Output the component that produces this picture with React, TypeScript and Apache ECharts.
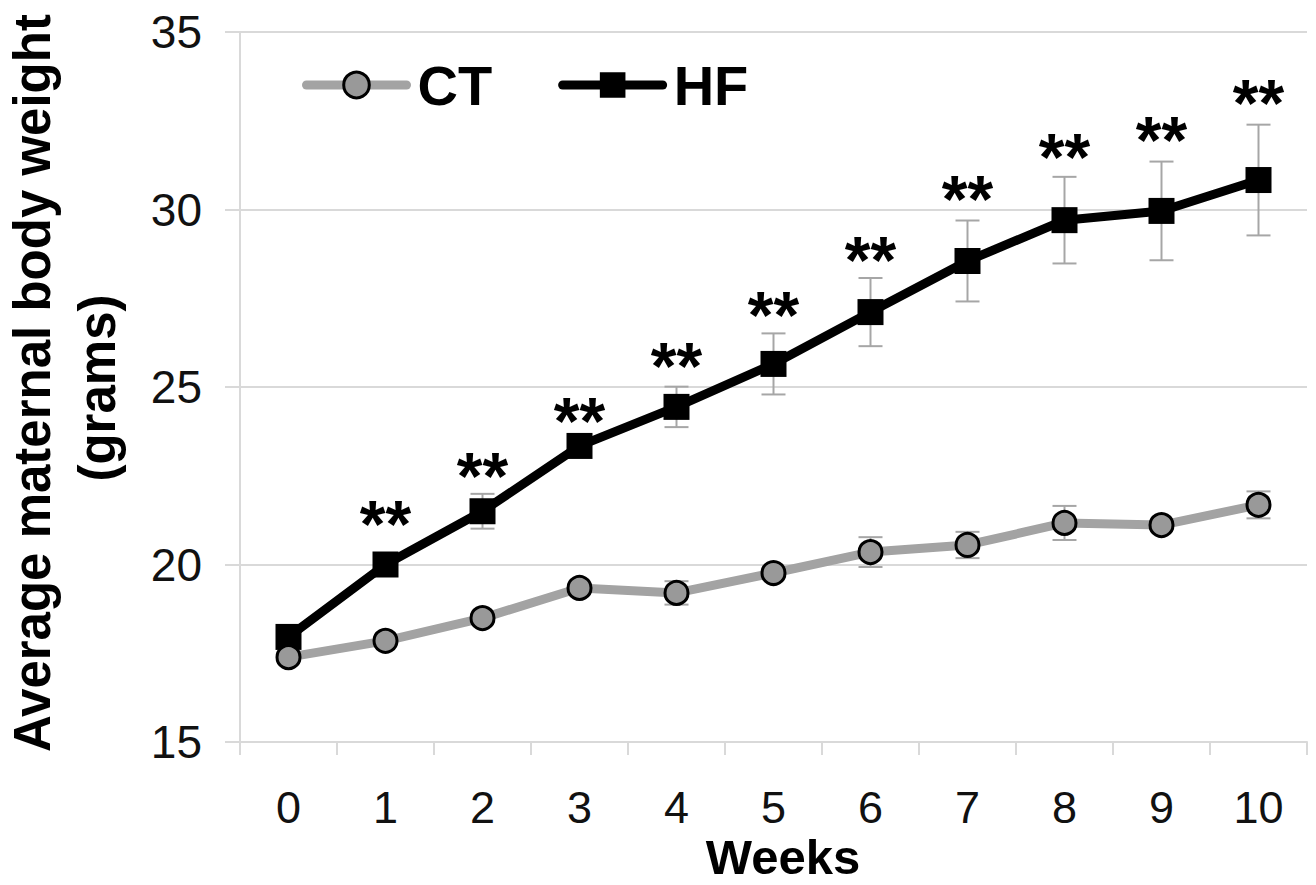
import React, { useEffect, useRef } from "react";
import * as echarts from "echarts";

const weeks = ["0", "1", "2", "3", "4", "5", "6", "7", "8", "9", "10"];
const ctMean = [17.39, 17.85, 18.49, 19.34, 19.2, 19.76, 20.35, 20.55, 21.17, 21.11, 21.68];
const ctErr = [0.12, 0.12, 0.12, 0.12, 0.33, 0.12, 0.42, 0.37, 0.48, 0.12, 0.38];
const hfMean = [17.96, 20.0, 21.5, 23.34, 24.44, 25.65, 27.11, 28.55, 29.7, 29.96, 30.83];
const hfErr = [0.3, 0.3, 0.49, 0.3, 0.57, 0.86, 0.96, 1.14, 1.22, 1.39, 1.56];
const significance = ["", "**", "**", "**", "**", "**", "**", "**", "**", "**", "**"];
// vertical value (grams) at which each significance mark sits
const significanceY = [0, 21.39, 22.75, 24.3, 25.85, 27.28, 28.83, 30.55, 31.73, 32.21, 33.25];
const yTicks = { min: 15, max: 35, interval: 5 };

const FONT = "'Liberation Sans', Arial, Helvetica, sans-serif";
const GRID_COLOR = "#d9d9d9";
const ERR_COLOR = "#a6a6a6";

export default function App() {
  const ref = useRef<HTMLDivElement>(null);

  useEffect(() => {
    document.body.style.margin = "0";
    if (!ref.current) return;
    const chart = echarts.init(ref.current, undefined, { renderer: "svg" });

    const errData = (mean: number[], err: number[]) =>
      mean.map((m, i) => [i, m - err[i], m + err[i]]);

    const errorSeries = (name: string, mean: number[], err: number[]) => ({
      type: "custom",
      name,
      z: 1,
      silent: true,
      data: errData(mean, err),
      encode: { x: 0, y: [1, 2] },
      renderItem: (params: any, api: any) => {
        const x = api.value(0);
        const lo = api.coord([x, api.value(1)]);
        const hi = api.coord([x, api.value(2)]);
        const w = 12;
        const style = { stroke: ERR_COLOR, lineWidth: 2 };
        return {
          type: "group",
          children: [
            { type: "line", shape: { x1: hi[0], y1: hi[1], x2: lo[0], y2: lo[1] }, style },
            { type: "line", shape: { x1: hi[0] - w, y1: hi[1], x2: hi[0] + w, y2: hi[1] }, style },
            { type: "line", shape: { x1: lo[0] - w, y1: lo[1], x2: lo[0] + w, y2: lo[1] }, style },
          ],
        };
      },
    });

    const titleStyle = {
      fontFamily: FONT,
      fontSize: 51,
      fontWeight: "bold",
      fill: "#000000",
      align: "center",
      verticalAlign: "middle",
    };

    const sigData = significance
      .map((s, i) => ({ s, i }))
      .filter((d) => d.s !== "")
      .map((d) => ({ value: [d.i, significanceY[d.i]], sig: d.s }));

    const option: any = {
      animation: false,
      backgroundColor: "#ffffff",
      grid: { left: 240, right: 9, top: 32, bottom: 143 },
      legend: {
        data: [
          {
            name: "CT",
            itemStyle: { color: "#999999", borderColor: "#000000", borderWidth: 3 },
            lineStyle: { color: "#a3a3a3", width: 9, cap: "round" },
          },
          {
            name: "HF",
            itemStyle: { color: "#000000", borderWidth: 0 },
            lineStyle: { color: "#000000", width: 9, cap: "round" },
          },
        ],
        left: 297,
        top: 52,
        itemWidth: 100,
        itemHeight: 32,
        itemGap: 66,
        textStyle: {
          fontFamily: FONT,
          fontSize: 56,
          fontWeight: "bold",
          color: "#000000",
          padding: [0, 0, 0, 6],
        },
      },
      xAxis: {
        type: "category",
        data: weeks,
        boundaryGap: true,
        axisLine: { show: true, lineStyle: { color: GRID_COLOR, width: 2 } },
        axisTick: { show: true, length: 13, lineStyle: { color: GRID_COLOR, width: 2 } },
        axisLabel: { fontFamily: FONT, fontSize: 45, color: "#111111", margin: 43 },
        splitLine: { show: false },
      },
      yAxis: {
        type: "value",
        min: yTicks.min,
        max: yTicks.max,
        interval: yTicks.interval,
        axisLine: { show: true, lineStyle: { color: GRID_COLOR, width: 2 } },
        axisTick: { show: true, length: 15, lineStyle: { color: GRID_COLOR, width: 2 } },
        axisLabel: { fontFamily: FONT, fontSize: 46, color: "#111111", margin: 38 },
        splitLine: { show: true, lineStyle: { color: GRID_COLOR, width: 2 } },
      },
      graphic: [
        {
          type: "text",
          x: 32,
          y: 383,
          rotation: Math.PI / 2,
          style: { ...titleStyle, text: "Average maternal body weight" },
        },
        {
          type: "text",
          x: 97,
          y: 388,
          rotation: Math.PI / 2,
          style: { ...titleStyle, text: "(grams)" },
        },
        {
          type: "text",
          x: 783,
          y: 857,
          style: { ...titleStyle, fontSize: 49, text: "Weeks" },
        },
      ],
      series: [
        errorSeries("HF err", hfMean, hfErr),
        errorSeries("CT err", ctMean, ctErr),
        {
          name: "HF",
          type: "line",
          z: 2,
          data: hfMean,
          symbol: "rect",
          symbolSize: 26,
          lineStyle: { color: "#000000", width: 9 },
          itemStyle: { color: "#000000" },
        },
        {
          name: "CT",
          type: "line",
          z: 3,
          data: ctMean,
          symbol: "circle",
          symbolSize: 23,
          lineStyle: { color: "#a3a3a3", width: 9 },
          itemStyle: { color: "#999999", borderColor: "#000000", borderWidth: 3 },
        },
        {
          name: "sig",
          type: "scatter",
          z: 4,
          silent: true,
          symbolSize: 0,
          itemStyle: { opacity: 1, color: "#000000" },
          data: sigData,
          label: {
            show: true,
            position: "inside",
            offset: [0, 9],
            formatter: (p: any) => p.data.sig,
            fontFamily: FONT,
            fontSize: 66,
            fontWeight: "bold",
            color: "#000000",
            opacity: 1,
          },
        },
      ],
    };

    chart.setOption(option);
    return () => chart.dispose();
  }, []);

  return <div ref={ref} style={{ width: 1316, height: 885 }} />;
}
